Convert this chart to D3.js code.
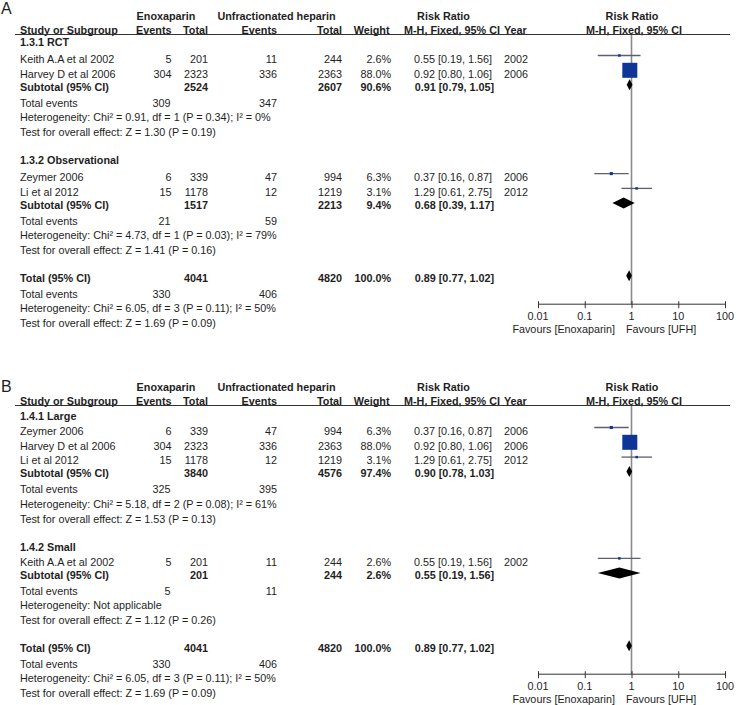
<!DOCTYPE html>
<html><head><meta charset="utf-8">
<script src="https://cdn.jsdelivr.net/npm/d3@7"></script>
<style>
body{margin:0;background:#fff}
svg{display:block}
text{font-family:"Liberation Sans",Arial,Helvetica,sans-serif;font-size:10.8px;fill:#1e1e1e}
</style>
</head><body>
<svg id="c" width="739" height="705"></svg>
<script>
// ---------------- DATA ----------------
const studyNames   = ["Keith A.A et al 2002","Harvey D et al 2006","Zeymer 2006","Li et al 2012"];
const studyYears   = [2002,2006,2006,2012];
const enoxEvents   = [5,304,6,15];
const enoxTotal    = [201,2323,339,1178];
const ufhEvents    = [11,336,47,12];
const ufhTotal     = [244,2363,994,1219];
const studyWeight  = [2.6,88.0,6.3,3.1];
const studyRR      = [0.55,0.92,0.37,1.29];
const studyLo      = [0.19,0.80,0.16,0.61];
const studyHi      = [1.56,1.06,0.87,2.75];

const panelLabels     = ["A","B"];
const subgroupNames   = [["1.3.1 RCT","1.3.2 Observational"],["1.4.1 Large","1.4.2 Small"]];
const subgroupMembers = [[[0,1],[2,3]],[[2,1,3],[0]]];
const subEnoxTotal    = [[2524,1517],[3840,201]];
const subUfhTotal     = [[2607,2213],[4576,244]];
const subWeight       = [[90.6,9.4],[97.4,2.6]];
const subRR           = [[0.91,0.68],[0.90,0.55]];
const subLo           = [[0.79,0.39],[0.78,0.19]];
const subHi           = [[1.05,1.17],[1.03,1.56]];
const subEnoxEvents   = [[309,21],[325,5]];
const subUfhEvents    = [[347,59],[395,11]];
const subHet          = [["Heterogeneity: Chi² = 0.91, df = 1 (P = 0.34); I² = 0%","Heterogeneity: Chi² = 4.73, df = 1 (P = 0.03); I² = 79%"],
                         ["Heterogeneity: Chi² = 5.18, df = 2 (P = 0.08); I² = 61%","Heterogeneity: Not applicable"]];
const subTest         = [["Test for overall effect: Z = 1.30 (P = 0.19)","Test for overall effect: Z = 1.41 (P = 0.16)"],
                         ["Test for overall effect: Z = 1.53 (P = 0.13)","Test for overall effect: Z = 1.12 (P = 0.26)"]];

const totalEnoxTotal  = 4041;
const totalUfhTotal   = 4820;
const totalWeight     = 100.0;
const totalRR         = 0.89;
const totalLo         = 0.77;
const totalHi         = 1.02;
const totalEnoxEvents = 330;
const totalUfhEvents  = 406;
const totalHet        = "Heterogeneity: Chi² = 6.05, df = 3 (P = 0.11); I² = 50%";
const totalTest       = "Test for overall effect: Z = 1.69 (P = 0.09)";

const axisTicks      = [0.01,0.1,1,10,100];
const axisTickLabels = ["0.01","0.1","1","10","100"];
const favoursLeft    = "Favours [Enoxaparin]";
const favoursRight   = "Favours [UFH]";

// ---------------- LAYOUT ----------------
const svg = d3.select("#c");
const f2 = d3.format(".2f");
const f1 = d3.format(".1f");
const rrText = (r,l,h)=>`${f2(r)} [${f2(l)}, ${f2(h)}]`;

const col = {label:20, eEv:171.5, eTot:208, uEv:277, uTot:342, wt:391, rr:492, year:504};
const x = d3.scaleLog().domain([0.01,100]).range([538,725]);
const sqSize = d3.scalePow().exponent(0.6).domain([0,88]).range([0,15]);
const panelTops = [0,371];
const BL = 3.8; // baseline offset from row centre

function txt(g, xx, y, s, anchor, bold){
  return g.append("text").attr("x",xx).attr("y",y+BL).attr("text-anchor",anchor||"start")
    .attr("font-weight",bold?"bold":null).text(s);
}

function diamond(g, r, l, h, y, ht){
  const c = x(r), a = x(l), b = x(h);
  g.append("path").attr("d",`M${a},${y}L${c},${y-ht/2}L${b},${y}L${c},${y+ht/2}Z`).attr("fill","#000");
}

panelLabels.forEach((lab,p)=>{
  const g = svg.append("g").attr("transform",`translate(0,${panelTops[p]})`);
  g.append("text").attr("x",1).attr("y",p===0?14:21).style("font-size","16px").text(lab);

  // headers
  txt(g,166,16,"Enoxaparin","middle",true);
  txt(g,276.5,16,"Unfractionated heparin","middle",true);
  txt(g,443.5,16,"Risk Ratio","middle",true);
  txt(g,632,16,"Risk Ratio","middle",true);
  txt(g,col.label,30,"Study or Subgroup","start",true);
  txt(g,col.eEv,30,"Events","end",true);
  txt(g,col.eTot,30,"Total","end",true);
  txt(g,col.uEv,30,"Events","end",true);
  txt(g,col.uTot,30,"Total","end",true);
  txt(g,389.5,30,"Weight","end",true);
  txt(g,404,30,"M-H, Fixed, 95% CI","start",true);
  txt(g,col.year,30,"Year","start",true);
  txt(g,634,30,"M-H, Fixed, 95% CI","middle",true);
  g.append("line").attr("x1",15).attr("x2",730).attr("y1",34.5).attr("y2",34.5).attr("stroke","#333").attr("stroke-width",1);

  const plot = g.append("g");
  let y = p===0 ? 42 : 45;
  subgroupNames[p].forEach((sn,s)=>{
    if(s>0) y += 28;
    txt(g,col.label,y,sn,"start",true);
    const mem = subgroupMembers[p][s];
    mem.forEach((i,k)=>{
      y += (k===0 ? (p===0?17:15) : 14.8);
      txt(g,col.label,y,studyNames[i]);
      txt(g,col.eEv,y,enoxEvents[i],"end");
      txt(g,col.eTot,y,enoxTotal[i],"end");
      txt(g,col.uEv,y,ufhEvents[i],"end");
      txt(g,col.uTot,y,ufhTotal[i],"end");
      txt(g,col.wt,y,f1(studyWeight[i])+"%","end");
      txt(g,col.rr,y,rrText(studyRR[i],studyLo[i],studyHi[i]),"end");
      txt(g,col.year,y,studyYears[i]);
      const my = y-3.5;
      plot.append("line").attr("x1",x(studyLo[i])).attr("x2",x(studyHi[i])).attr("y1",my).attr("y2",my)
        .attr("stroke","#5c5f6e").attr("stroke-width",1.3);
      const sz = Math.max(2.5,sqSize(studyWeight[i]));
      plot.append("rect").attr("x",x(studyRR[i])-sz/2).attr("y",my-sz/2).attr("width",sz).attr("height",sz)
        .attr("fill","#0f3596");
    });
    y += 13;
    txt(g,col.label,y,"Subtotal (95% CI)","start",true);
    txt(g,col.eTot,y,subEnoxTotal[p][s],"end",true);
    txt(g,col.uTot,y,subUfhTotal[p][s],"end",true);
    txt(g,col.wt,y,f1(subWeight[p][s])+"%","end",true);
    txt(g,col.rr+2,y,rrText(subRR[p][s],subLo[p][s],subHi[p][s]),"end",true);
    diamond(plot,subRR[p][s],subLo[p][s],subHi[p][s],y-2,11);
    y += 16;
    txt(g,col.label,y,"Total events");
    txt(g,col.eEv-1,y,subEnoxEvents[p][s],"end");
    txt(g,col.uEv,y,subUfhEvents[p][s],"end");
    y += 14.5;
    txt(g,col.label,y,subHet[p][s]);
    y += 14.8;
    txt(g,col.label,y,subTest[p][s]);
  });
  y += 28;
  txt(g,col.label,y,"Total (95% CI)","start",true);
  txt(g,col.eTot,y,totalEnoxTotal,"end",true);
  txt(g,col.uTot,y,totalUfhTotal,"end",true);
  txt(g,col.wt,y,f1(totalWeight)+"%","end",true);
  txt(g,col.rr+2,y,rrText(totalRR,totalLo,totalHi),"end",true);
  diamond(plot,totalRR,totalLo,totalHi,y-2.5,11);
  const totY = y;
  y += 15.5;
  txt(g,col.label,y,"Total events");
  txt(g,col.eEv-1,y,totalEnoxEvents,"end");
  txt(g,col.uEv,y,totalUfhEvents,"end");
  y += 14.8;
  txt(g,col.label,y,totalHet);
  y += 14.2;
  txt(g,col.label,y,totalTest);

  // axis
  const ay = totY + 26;
  g.insert("line",":first-child").attr("x1",x(1)).attr("x2",x(1)).attr("y1",34.5).attr("y2",ay)
    .attr("stroke","#8a8a8a").attr("stroke-width",1.6);
  const axG = g.append("g").attr("transform",`translate(0,${ay})`);
  axG.call(d3.axisBottom(x).tickValues(axisTicks).tickFormat((d,i)=>axisTickLabels[i]).tickSize(0).tickPadding(0));
  axG.select(".domain").remove();
  axG.selectAll(".tick text").remove();
  axG.append("line").attr("x1",x(0.01)).attr("x2",x(100)).attr("stroke","#333").attr("stroke-width",1);
  axG.selectAll(".tick").append("line").attr("y1",-3).attr("y2",4).attr("stroke","#333").attr("stroke-width",1);
  axisTicks.forEach((t,i)=>{ txt(axG,x(t),12,axisTickLabels[i],"middle"); });
  txt(axG,615,25,favoursLeft,"end");
  txt(axG,626,25,favoursRight,"start");
});
</script>
</body></html>
